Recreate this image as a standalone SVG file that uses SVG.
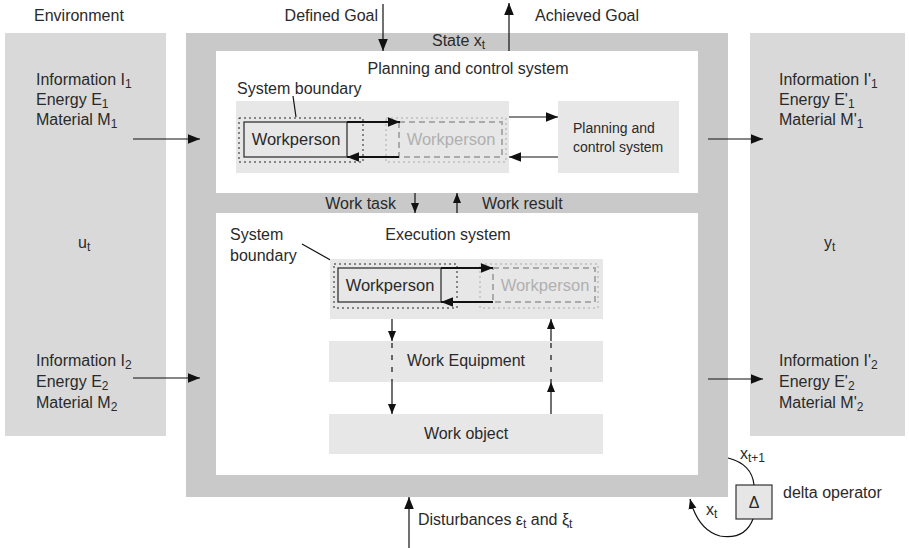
<svg xmlns="http://www.w3.org/2000/svg" width="909" height="548" viewBox="0 0 909 548">
<defs>
<marker id="ah" viewBox="0 0 10 10" refX="10" refY="5" markerWidth="10" markerHeight="10" markerUnits="userSpaceOnUse" orient="auto"><path d="M0,1 L10,5 L0,9 Z" fill="#111"/></marker>
<marker id="ahb" viewBox="0 0 10 10" refX="10" refY="5" markerWidth="14" markerHeight="12" markerUnits="userSpaceOnUse" orient="auto"><path d="M0,1 L10,5 L0,9 Z" fill="#111"/></marker>
</defs>
<style>
text{font-family:"Liberation Sans",Arial,sans-serif;font-size:16px;fill:#2a2a2a}
.sub{font-size:12px}
.sm{font-size:14px}
.wp{font-size:16.5px}
.env{fill:#d9d9d9}
.frame{fill:#c8c9c8}
.white{fill:#fff}
.lg{fill:#e7e7e7}
.ln{stroke:#111;stroke-width:1.2;fill:none}
.thick{stroke:#111;stroke-width:2;fill:none}
.solid{fill:none;stroke:#333;stroke-width:1.3}
.dot{fill:none;stroke:#222;stroke-width:1;stroke-dasharray:2,3}
.gdash{fill:none;stroke:#aaa;stroke-width:2;stroke-dasharray:6,4}
.gdot{fill:none;stroke:#aaa;stroke-width:1;stroke-dasharray:2,3}
.gt{fill:#b0b0b0}
</style>

<rect id="env-left" class="env" x="5" y="33" width="161" height="403"/>
<rect id="env-right" class="env" x="750" y="33" width="155" height="403"/>
<rect id="frame" class="frame" x="186" y="33" width="542" height="464"/>
<rect class="white" x="216" y="51" width="482" height="142"/>
<rect class="white" x="216" y="213" width="482" height="262"/>

<text x="34" y="21">Environment</text>

<g id="left-top">
<text x="36" y="85">Information I<tspan class="sub" dy="3">1</tspan></text>
<text x="36" y="105">Energy E<tspan class="sub" dy="3">1</tspan></text>
<text x="36" y="125">Material M<tspan class="sub" dy="3">1</tspan></text>
</g>
<text x="78" y="248">u<tspan class="sub" dy="3">t</tspan></text>
<g id="left-bottom">
<text x="36" y="366">Information I<tspan class="sub" dy="3">2</tspan></text>
<text x="36" y="387">Energy E<tspan class="sub" dy="3">2</tspan></text>
<text x="36" y="408">Material M<tspan class="sub" dy="3">2</tspan></text>
</g>

<g id="right-top">
<text x="779" y="85">Information I'<tspan class="sub" dy="3">1</tspan></text>
<text x="779" y="105">Energy E'<tspan class="sub" dy="3">1</tspan></text>
<text x="779" y="125">Material M'<tspan class="sub" dy="3">1</tspan></text>
</g>
<text x="824" y="248">y<tspan class="sub" dy="3">t</tspan></text>
<g id="right-bottom">
<text x="779" y="366">Information I'<tspan class="sub" dy="3">2</tspan></text>
<text x="779" y="387">Energy E'<tspan class="sub" dy="3">2</tspan></text>
<text x="779" y="408">Material M'<tspan class="sub" dy="3">2</tspan></text>
</g>

<text x="378" y="21" text-anchor="end">Defined Goal</text>
<text x="535" y="21">Achieved Goal</text>
<text x="432" y="46">State x<tspan class="sub" dy="3">t</tspan></text>

<g id="planning">
<text x="468" y="74" text-anchor="middle">Planning and control system</text>
<rect class="lg" x="236" y="101" width="273" height="72"/>
<text x="237" y="94">System boundary</text>
<line class="ln" x1="293" y1="96" x2="296" y2="117"/>
<rect class="dot" x="239" y="118" width="124" height="44"/>
<rect class="solid" x="244" y="122" width="103" height="35"/>
<text x="296" y="145" text-anchor="middle" class="wp">Workperson</text>
<rect class="gdot" x="386" y="118" width="120" height="44"/>
<rect class="gdash" x="399" y="122" width="103" height="35"/>
<text x="451" y="145" text-anchor="middle" class="wp gt">Workperson</text>
</g>
<g id="pcs-box">
<rect class="lg" x="558" y="101" width="121" height="72"/>
<text x="573" y="133" class="sm">Planning and</text>
<text x="573" y="152" class="sm">control system</text>
</g>

<g id="execution">
<text x="448" y="240" text-anchor="middle">Execution system</text>
<text x="230" y="240">System</text>
<text x="230" y="261">boundary</text>
<line class="ln" x1="302" y1="244" x2="334" y2="262"/>
<rect class="lg" x="330" y="259" width="273" height="60"/>
<rect class="dot" x="334" y="264" width="123" height="44"/>
<rect class="solid" x="338" y="268" width="103" height="34"/>
<text x="390" y="291" text-anchor="middle" class="wp">Workperson</text>
<rect class="gdot" x="480" y="264" width="118" height="44"/>
<rect class="gdash" x="493" y="268" width="102" height="34"/>
<text x="545" y="291" text-anchor="middle" class="wp gt">Workperson</text>
</g>
<g id="work-equipment">
<rect class="lg" x="329" y="341" width="274" height="41"/>
<text x="466" y="366" text-anchor="middle">Work Equipment</text>
</g>
<g id="work-object">
<rect class="lg" x="329" y="414" width="274" height="40"/>
<text x="466" y="439" text-anchor="middle">Work object</text>
</g>

<text x="396" y="209" text-anchor="end">Work task</text>
<text x="482" y="209">Work result</text>

<g id="delta">
<rect x="736" y="485" width="36" height="34" fill="#e6e6e6" stroke="#333" stroke-width="1.2"/>
<text x="754" y="508" text-anchor="middle">Δ</text>
</g>
<text x="783" y="498">delta operator</text>
<text x="740" y="459">x<tspan class="sub" dy="3">t+1</tspan></text>
<text x="706" y="515">x<tspan class="sub" dy="3">t</tspan></text>
<text x="418" y="525">Disturbances ε<tspan class="sub" dy="3">t</tspan><tspan dy="-3"> and ξ</tspan><tspan class="sub" dy="3">t</tspan></text>

<g id="connectors">
<line class="ln" x1="133" y1="139" x2="200" y2="139" marker-end="url(#ahb)"/>
<line class="ln" x1="133" y1="378" x2="200" y2="378" marker-end="url(#ahb)"/>
<line class="ln" x1="708" y1="139" x2="763" y2="139" marker-end="url(#ahb)"/>
<line class="ln" x1="708" y1="379" x2="763" y2="379" marker-end="url(#ahb)"/>
<line class="ln" x1="383" y1="4" x2="383" y2="51" marker-end="url(#ahb)"/>
<line class="ln" x1="509" y1="51" x2="509" y2="3" marker-end="url(#ahb)"/>
<line class="ln" x1="415" y1="193" x2="415" y2="213" marker-end="url(#ah)"/>
<line class="ln" x1="457" y1="213" x2="457" y2="193" marker-end="url(#ah)"/>
<line class="ln" x1="409" y1="548" x2="409" y2="497" marker-end="url(#ahb)"/>
<line class="ln" x1="509" y1="117" x2="558" y2="117" marker-end="url(#ahb)"/>
<line class="ln" x1="558" y1="157" x2="509" y2="157" marker-end="url(#ahb)"/>
<polyline class="thick" points="347,122 400,122" marker-end="url(#ahb)"/>
<polyline class="thick" points="399,157 347,157" marker-end="url(#ahb)"/>
<polyline class="thick" points="441,268 493,268" marker-end="url(#ahb)"/>
<polyline class="thick" points="493,302 441,302" marker-end="url(#ahb)"/>
<line class="ln" x1="392" y1="319" x2="392" y2="341" marker-end="url(#ah)"/>
<line class="ln" x1="392" y1="343" x2="392" y2="382" stroke-dasharray="5,7"/>
<line class="ln" x1="392" y1="382" x2="392" y2="414" marker-end="url(#ah)"/>
<line class="ln" x1="551" y1="414" x2="551" y2="382" marker-end="url(#ah)"/>
<line class="ln" x1="551" y1="343" x2="551" y2="382" stroke-dasharray="5,7"/>
<line class="ln" x1="551" y1="341" x2="551" y2="319" marker-end="url(#ah)"/>
<path class="ln" d="M728,458 Q752,464 754,485"/>
<path class="ln" d="M753,519 Q745,540 720,536 Q698,530 690,499" marker-end="url(#ah)"/>
</g>
</svg>
